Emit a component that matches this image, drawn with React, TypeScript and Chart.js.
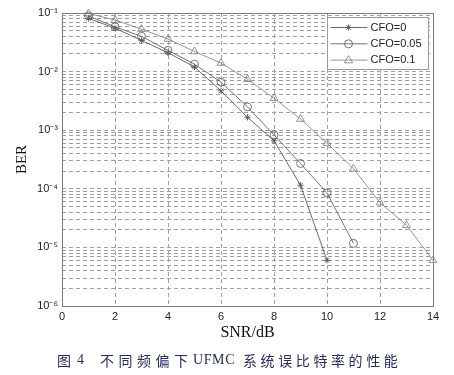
import { useEffect, useRef } from 'react';
import { Chart, registerables } from 'chart.js';

Chart.register(...registerables);

// ---- data ----
const snrValues = [1, 2, 3, 4, 5, 6, 7, 8, 9, 10, 11, 12, 13, 14];
const berCfo0 = [0.081, 0.055, 0.034, 0.021, 0.012, 0.0047, 0.00166, 0.00066, 0.000115, 0.000006];
const berCfo005 = [0.089, 0.058, 0.04, 0.023, 0.0134, 0.0066, 0.0025, 0.00083, 0.00027, 0.000085, 0.0000117];
const berCfo01 = [0.098, 0.076, 0.053, 0.036, 0.022, 0.014, 0.0074, 0.0035, 0.00155, 0.0006, 0.00022, 0.000058, 0.000024, 0.000006];
const seriesLabels = ['CFO=0', 'CFO=0.05', 'CFO=0.1'];
const xTickValues = [0, 2, 4, 6, 8, 10, 12, 14];
const yDecades = [1e-6, 1e-5, 1e-4, 1e-3, 1e-2, 1e-1];
const yTickLabels = ['10⁻⁶', '10⁻⁵', '10⁻⁴', '10⁻³', '10⁻²', '10⁻¹'];
const xAxisTitle = 'SNR/dB';
const yAxisTitle = 'BER';
const captionParts = ['图', '4', '不同频偏下', 'UFMC', '系统误比特率的性能'];

const seriesStyles = [
  { color: '#5a5a5a', point: 'star', radius: 3.2 },
  { color: '#666666', point: 'circle', radius: 4 },
  { color: '#8a8a8a', point: 'triangle', radius: 4.5 },
];

const captionLayout = [
  { left: 57, spacing: 0, latin: false },
  { left: 77, spacing: 0, latin: true },
  { left: 100, spacing: 4.5, latin: false },
  { left: 193, spacing: 0.6, latin: true },
  { left: 243, spacing: 3.6, latin: false },
];

function drawMarker(ctx: CanvasRenderingContext2D, style: string, x: number, y: number, r: number) {
  ctx.beginPath();
  if (style === 'circle') {
    ctx.arc(x, y, r, 0, Math.PI * 2);
  } else if (style === 'triangle') {
    ctx.moveTo(x, y - r);
    ctx.lineTo(x + r * 0.95, y + r * 0.6);
    ctx.lineTo(x - r * 0.95, y + r * 0.6);
    ctx.closePath();
  } else {
    for (let i = 0; i < 4; i++) {
      const a = (i * Math.PI) / 4;
      ctx.moveTo(x + Math.cos(a) * r, y + Math.sin(a) * r);
      ctx.lineTo(x - Math.cos(a) * r, y - Math.sin(a) * r);
    }
  }
  ctx.stroke();
}

const frameAndLegend = {
  id: 'frameAndLegend',
  afterDraw(chart: any) {
    const { ctx, chartArea } = chart;
    ctx.save();
    const l = Math.round(chartArea.left) + 0.5;
    const t = Math.round(chartArea.top) + 0.5;
    const r = Math.round(chartArea.right) + 0.5;
    const b = Math.round(chartArea.bottom) + 0.5;
    ctx.strokeStyle = '#7a7a7a';
    ctx.lineWidth = 1;
    ctx.setLineDash([]);
    ctx.strokeRect(l, t, r - l, b - t);

    const boxRight = r - 5;
    const boxLeft = boxRight - 101;
    const boxTop = t + 4;
    const boxHeight = 52;
    ctx.fillStyle = '#ffffff';
    ctx.fillRect(boxLeft, boxTop, boxRight - boxLeft, boxHeight);
    ctx.strokeStyle = '#9a9a9a';
    ctx.strokeRect(boxLeft, boxTop, boxRight - boxLeft, boxHeight);
    ctx.font = '11px "Liberation Sans", Arial, sans-serif';
    ctx.textBaseline = 'middle';
    ctx.textAlign = 'left';
    seriesLabels.forEach((label, i) => {
      const st = seriesStyles[i];
      const y = boxTop + 10 + i * 16.3;
      ctx.strokeStyle = st.color;
      ctx.lineWidth = 0.9;
      ctx.beginPath();
      ctx.moveTo(boxLeft + 3, y);
      ctx.lineTo(boxLeft + 40, y);
      ctx.stroke();
      drawMarker(ctx, st.point, boxLeft + 21, y, st.radius);
      ctx.fillStyle = '#222222';
      ctx.fillText(label, boxLeft + 43, y);
    });
    ctx.restore();
  },
};

export default function App() {
  const canvasRef = useRef<HTMLCanvasElement | null>(null);

  useEffect(() => {
    if (!canvasRef.current) return;
    const seriesData = [berCfo0, berCfo005, berCfo01];
    const chart = new Chart(canvasRef.current, {
      type: 'line',
      data: {
        datasets: seriesData.map((vals, i) => ({
          label: seriesLabels[i],
          data: vals.map((v, j) => ({ x: snrValues[j], y: v })),
          borderColor: seriesStyles[i].color,
          borderWidth: 0.9,
          backgroundColor: 'rgba(0,0,0,0)',
          pointStyle: seriesStyles[i].point as any,
          pointRadius: seriesStyles[i].radius,
          pointBorderColor: seriesStyles[i].color,
          pointBorderWidth: 0.9,
          pointBackgroundColor: 'rgba(0,0,0,0)',
          tension: 0,
          fill: false,
          clip: 8,
        })),
      },
      plugins: [frameAndLegend],
      options: {
        responsive: false,
        animation: false,
        events: [],
        layout: { padding: { top: 13, right: 21, bottom: 30, left: 0 } },
        plugins: {
          legend: { display: false },
          tooltip: { enabled: false },
        },
        scales: {
          x: {
            type: 'linear',
            min: 0,
            max: 14,
            afterFit: (s: any) => {
              s.height = 39;
            },
            afterBuildTicks: (s: any) => {
              s.ticks = xTickValues.map((v) => ({ value: v }));
            },
            ticks: {
              autoSkip: false,
              maxRotation: 0,
              padding: 4,
              color: '#222222',
              font: { family: '"Liberation Sans", Arial, sans-serif', size: 11 },
            },
            grid: { color: '#a0a0a0', lineWidth: 1, drawTicks: false },
            border: { display: false, dash: [4, 3] },
            title: {
              display: true,
              text: xAxisTitle,
              color: '#111111',
              font: { family: '"Liberation Serif", "Times New Roman", serif', size: 16 },
              padding: { top: 0, bottom: 3 },
            },
          },
          y: {
            type: 'logarithmic',
            min: 1e-6,
            max: 1e-1,
            afterFit: (s: any) => {
              s.width = 62;
            },
            afterBuildTicks: (s: any) => {
              const ticks: { value: number }[] = [];
              for (let d = 0; d < yDecades.length - 1; d++) {
                for (let m = 1; m <= 9; m++) ticks.push({ value: m * yDecades[d] });
              }
              ticks.push({ value: yDecades[yDecades.length - 1] });
              s.ticks = ticks;
            },
            ticks: {
              autoSkip: false,
              padding: 4,
              color: '#222222',
              font: { family: '"Liberation Sans", Arial, sans-serif', size: 11 },
              callback: (value: any) => {
                const v = Number(value);
                const idx = yDecades.findIndex((d) => Math.abs(d - v) / d < 1e-6);
                return idx >= 0 ? yTickLabels[idx] : '';
              },
            },
            grid: { color: '#a0a0a0', lineWidth: 1, drawTicks: false },
            border: { display: false, dash: [4, 3] },
            title: {
              display: true,
              text: yAxisTitle,
              color: '#111111',
              font: { family: '"Liberation Serif", "Times New Roman", serif', size: 15 },
              padding: { top: 13, bottom: 0 },
            },
          },
        },
      },
    });
    return () => chart.destroy();
  }, []);

  return (
    <div style={{ position: 'fixed', left: 0, top: 0, width: 454, height: 375, background: '#fff' }}>
      <canvas ref={canvasRef} width={454} height={375} style={{ display: 'block' }} />
      {captionParts.map((part, i) => (
        <span
          key={i}
          style={{
            position: 'absolute',
            left: captionLayout[i].left,
            top: 352,
            whiteSpace: 'pre',
            fontFamily: captionLayout[i].latin
              ? '"Liberation Serif", "Times New Roman", serif'
              : '"Noto Sans CJK SC", "Liberation Serif", serif',
            fontSize: 14,
            letterSpacing: captionLayout[i].spacing,
            color: '#262d5c',
            lineHeight: '16px',
          }}
        >
          {part}
        </span>
      ))}
    </div>
  );
}
